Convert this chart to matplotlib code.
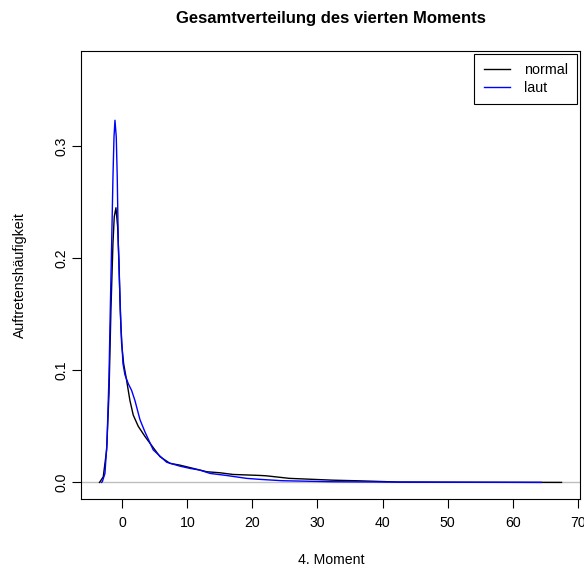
import matplotlib
matplotlib.use("Agg")
import matplotlib.pyplot as plt

plt.rcParams['font.family'] = ['Liberation Sans', 'DejaVu Sans']

x_normal = [-3.5, -3.43, -2.92, -2.4, -2.04, -1.74, -1.43, -1.23, -0.97, -0.71, -0.51,
            -0.31, -0.1, 0.21, 0.67, 1.18, 1.69, 2.46, 3.49, 4.25, 5.02, 5.79, 7.33,
            8.86, 10.9, 13.0, 15.0, 17.0, 21.2, 22.1, 25.7, 32.3, 36.5, 42.6, 50.0,
            58.0, 67.5]
y_normal = [0.0, 0.0005, 0.005, 0.029, 0.079, 0.154, 0.213, 0.237, 0.245, 0.228, 0.198,
            0.154, 0.124, 0.106, 0.091, 0.073, 0.060, 0.050, 0.041, 0.035, 0.029, 0.023, 0.017,
            0.0154, 0.0125, 0.0095, 0.0086, 0.0071, 0.0062, 0.0059, 0.0036, 0.002, 0.0014,
            0.0003, 0.0002, 0.0001, 0.0]

x_laut = [-3.2, -3.07, -2.66, -2.35, -2.04, -1.84, -1.63, -1.43, -1.27, -1.12, -0.92,
          -0.77, -0.61, -0.46, -0.2, 0.11, 0.41, 0.93, 1.44, 1.95, 2.72, 3.49, 4.76,
          6.82, 8.86, 10.4, 11.9, 13.5, 16.0, 19.1, 21.2, 24.6, 32.3, 42.6, 52.0, 64.4]
y_laut = [0.0, 0.0005, 0.008, 0.035, 0.094, 0.154, 0.213, 0.272, 0.308, 0.323, 0.308,
          0.272, 0.213, 0.184, 0.139, 0.106, 0.096, 0.088, 0.082, 0.073, 0.056, 0.045, 0.029,
          0.018, 0.0145, 0.0125, 0.011, 0.008, 0.0062, 0.0036, 0.0027, 0.0015, 0.0006,
          0.0003, 0.0001, 0.0]

x_ticks = [0, 10, 20, 30, 40, 50, 60, 70]
y_ticks = [0.0, 0.1, 0.2, 0.3]

W, H = 584, 572
fig = plt.figure(figsize=(W / 100, H / 100), dpi=100)
ax = fig.add_axes([81 / W, (H - 499) / H, 499 / W, 448 / H])

ax.axhline(0, color='#bebebe', lw=1.0, zorder=1)
ax.plot(x_normal, y_normal, color='black', lw=1.0, label='normal', zorder=2)
ax.plot(x_laut, y_laut, color='blue', lw=1.0, label='laut', zorder=3)

# R-typische Achsen: 4% Rand um den Datenbereich
x0, x1 = -3.5, 67.5
y0, y1 = 0.0, 0.37
dx, dy = (x1 - x0) * 0.04, (y1 - y0) * 0.04
ax.set_xlim(x0 - dx, x1 + dx)
ax.set_ylim(y0 - dy, y1 + dy)

ax.set_xticks(x_ticks)
ax.set_yticks(y_ticks)
ax.set_yticklabels(['%.1f' % v for v in y_ticks], rotation=90, va='center')
ax.tick_params(direction='out', length=6.5, width=0.8, labelsize=10.2, colors='black')
ax.tick_params(axis='x', pad=6)
ax.tick_params(axis='y', pad=2.5)
for s in ax.spines.values():
    s.set_linewidth(0.8)

leg = ax.legend(loc='upper right', fontsize=10.3, frameon=True, fancybox=False,
                edgecolor='black', framealpha=1, borderaxespad=0.2,
                handlelength=1.8, handletextpad=1.0, borderpad=0.65, labelspacing=0.25)
leg.get_frame().set_linewidth(0.8)

fig.text(331 / W, 1 - 18 / H, 'Gesamtverteilung des vierten Moments',
         ha='center', va='center', fontsize=12, fontweight='bold')
fig.text(331 / W, 1 - 560 / H, '4. Moment', ha='center', va='center', fontsize=10.2)
fig.text(20 / W, 1 - 275 / H, 'Auftretenshäufigkeit', ha='center', va='center',
         rotation=90, fontsize=10.2)

fig.savefig('out.png', dpi=100)
